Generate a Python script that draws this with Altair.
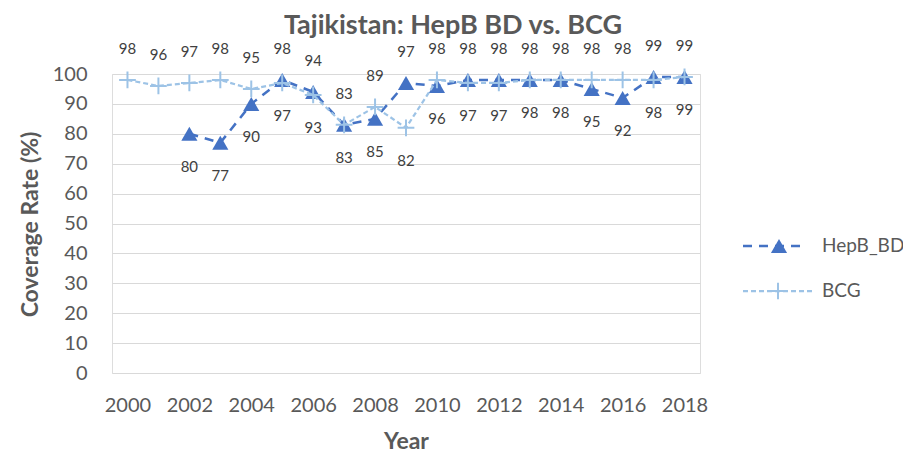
import altair as alt
import pandas as pd

years = list(range(2000, 2019))
hepb_bd = [None, None, 80, 77, 90, 98, 94, 83, 85, 97, 96, 98, 98, 98, 98, 95, 92, 99, 99]
bcg = [98, 96, 97, 98, 95, 97, 93, 83, 89, 82, 98, 97, 97, 98, 98, 98, 98, 98, 99]
series_names = ["HepB_BD", "BCG"]
x_ticks = list(range(2000, 2019, 2))
y_ticks = list(range(0, 101, 10))

FONT = "Lato"
C_HEPB = "#4472C4"
C_BCG = "#9DC3E6"

rows = []
for i, yr in enumerate(years):
    h, b = hepb_bd[i], bcg[i]
    if h is not None:
        rows.append({"year": yr, "series": "HepB_BD", "value": h,
                     "pos": "above" if (h > b) else "below"})
    if b is not None:
        rows.append({"year": yr, "series": "BCG", "value": b,
                     "pos": "above" if (h is None or b >= h) else "below"})
df = pd.DataFrame(rows)
leg = pd.DataFrame({"series": series_names})

x_enc = alt.X("year:Q",
              scale=alt.Scale(domain=[1999.5, 2018.5], nice=False, zero=False),
              axis=alt.Axis(values=x_ticks, format="d", title="Year", grid=False,
                            ticks=False, tickSize=0, domain=False, labelFontSize=20,
                            labelColor="#595959", labelFont=FONT, labelPadding=22,
                            titleFont=FONT, titleFontSize=23, titleFontWeight="bold",
                            titleColor="#595959", titleY=68, titleBaseline="middle"))
y_enc = alt.Y("value:Q",
              scale=alt.Scale(domain=[0, 100], nice=False),
              axis=alt.Axis(values=y_ticks, title="Coverage Rate (%)", grid=True,
                            gridColor="#D9D9D9", gridWidth=1, ticks=False, tickSize=0,
                            domain=False, labelFontSize=20, labelColor="#595959",
                            labelFont=FONT, labelPadding=25, titleFont=FONT,
                            titleFontSize=23, titleFontWeight="bold", titleColor="#595959",
                            titleX=-82, titleY=150, titleBaseline="middle", titleAlign="center"))

base = alt.Chart(df).encode(x=x_enc, y=y_enc)

hepb_line = base.transform_filter(alt.datum.series == "HepB_BD").mark_line(
    color=C_HEPB, strokeWidth=2.5, strokeDash=[9, 7])
hepb_pts = base.transform_filter(alt.datum.series == "HepB_BD").mark_point(
    shape="triangle-up", filled=True, size=260, color=C_HEPB, opacity=1)
bcg_line = base.transform_filter(alt.datum.series == "BCG").mark_line(
    color=C_BCG, strokeWidth=2.25, strokeDash=[5, 3])
plus = "M-1,0L1,0M0,-1L0,1"
bcg_pts = base.transform_filter(alt.datum.series == "BCG").mark_point(
    shape=plus, filled=False, size=280, strokeWidth=2, color=C_BCG, opacity=1)

lab_above = base.transform_filter(alt.datum.pos == "above").mark_text(
    dy=-31, fontSize=15, font=FONT, color="#404040", baseline="middle").encode(
    text=alt.Text("value:Q", format="d"))
lab_below = base.transform_filter(alt.datum.pos == "below").mark_text(
    dy=33, fontSize=15, font=FONT, color="#404040", baseline="middle").encode(
    text=alt.Text("value:Q", format="d"))

# manual legend
lb = alt.Chart(leg)
HY, BY = 172, 217
leg_h_line = lb.transform_filter(alt.datum.series == "HepB_BD").mark_rule(
    color=C_HEPB, strokeWidth=2.5, strokeDash=[9, 7]).encode(
    x=alt.value(631), x2=alt.value(695), y=alt.value(HY))
leg_h_pt = lb.transform_filter(alt.datum.series == "HepB_BD").mark_point(
    shape="triangle-up", filled=True, size=260, color=C_HEPB, opacity=1).encode(
    x=alt.value(667), y=alt.value(HY))
leg_h_txt = lb.transform_filter(alt.datum.series == "HepB_BD").mark_text(
    align="left", baseline="middle", fontSize=19, font=FONT, color="#595959").encode(
    x=alt.value(710), y=alt.value(HY), text="series:N")
leg_b_line = lb.transform_filter(alt.datum.series == "BCG").mark_rule(
    color=C_BCG, strokeWidth=2.25, strokeDash=[5, 3]).encode(
    x=alt.value(631), x2=alt.value(700), y=alt.value(BY))
leg_b_pt = lb.transform_filter(alt.datum.series == "BCG").mark_point(
    shape=plus, filled=False, size=280, strokeWidth=2, color=C_BCG, opacity=1).encode(
    x=alt.value(666), y=alt.value(BY))
leg_b_txt = lb.transform_filter(alt.datum.series == "BCG").mark_text(
    align="left", baseline="middle", fontSize=19, font=FONT, color="#595959").encode(
    x=alt.value(710), y=alt.value(BY), text="series:N")

chart = alt.layer(
    hepb_line, hepb_pts, bcg_line, bcg_pts, lab_above, lab_below,
    leg_h_line, leg_h_pt, leg_h_txt, leg_b_line, leg_b_pt, leg_b_txt
).properties(
    width=588, height=299,
    title=alt.TitleParams("Tajikistan: HepB BD vs. BCG", fontSize=27, fontWeight="bold",
                          color="#595959", font=FONT, anchor="middle", dx=47, offset=0, dy=1),
    autosize=alt.AutoSizeParams(type="none"),
    padding={"left": 104, "top": 66, "right": 203, "bottom": 90},
).configure_view(stroke=None).configure(background="white")

chart.save("out.html", embed_options={"renderer": "svg", "actions": False})
